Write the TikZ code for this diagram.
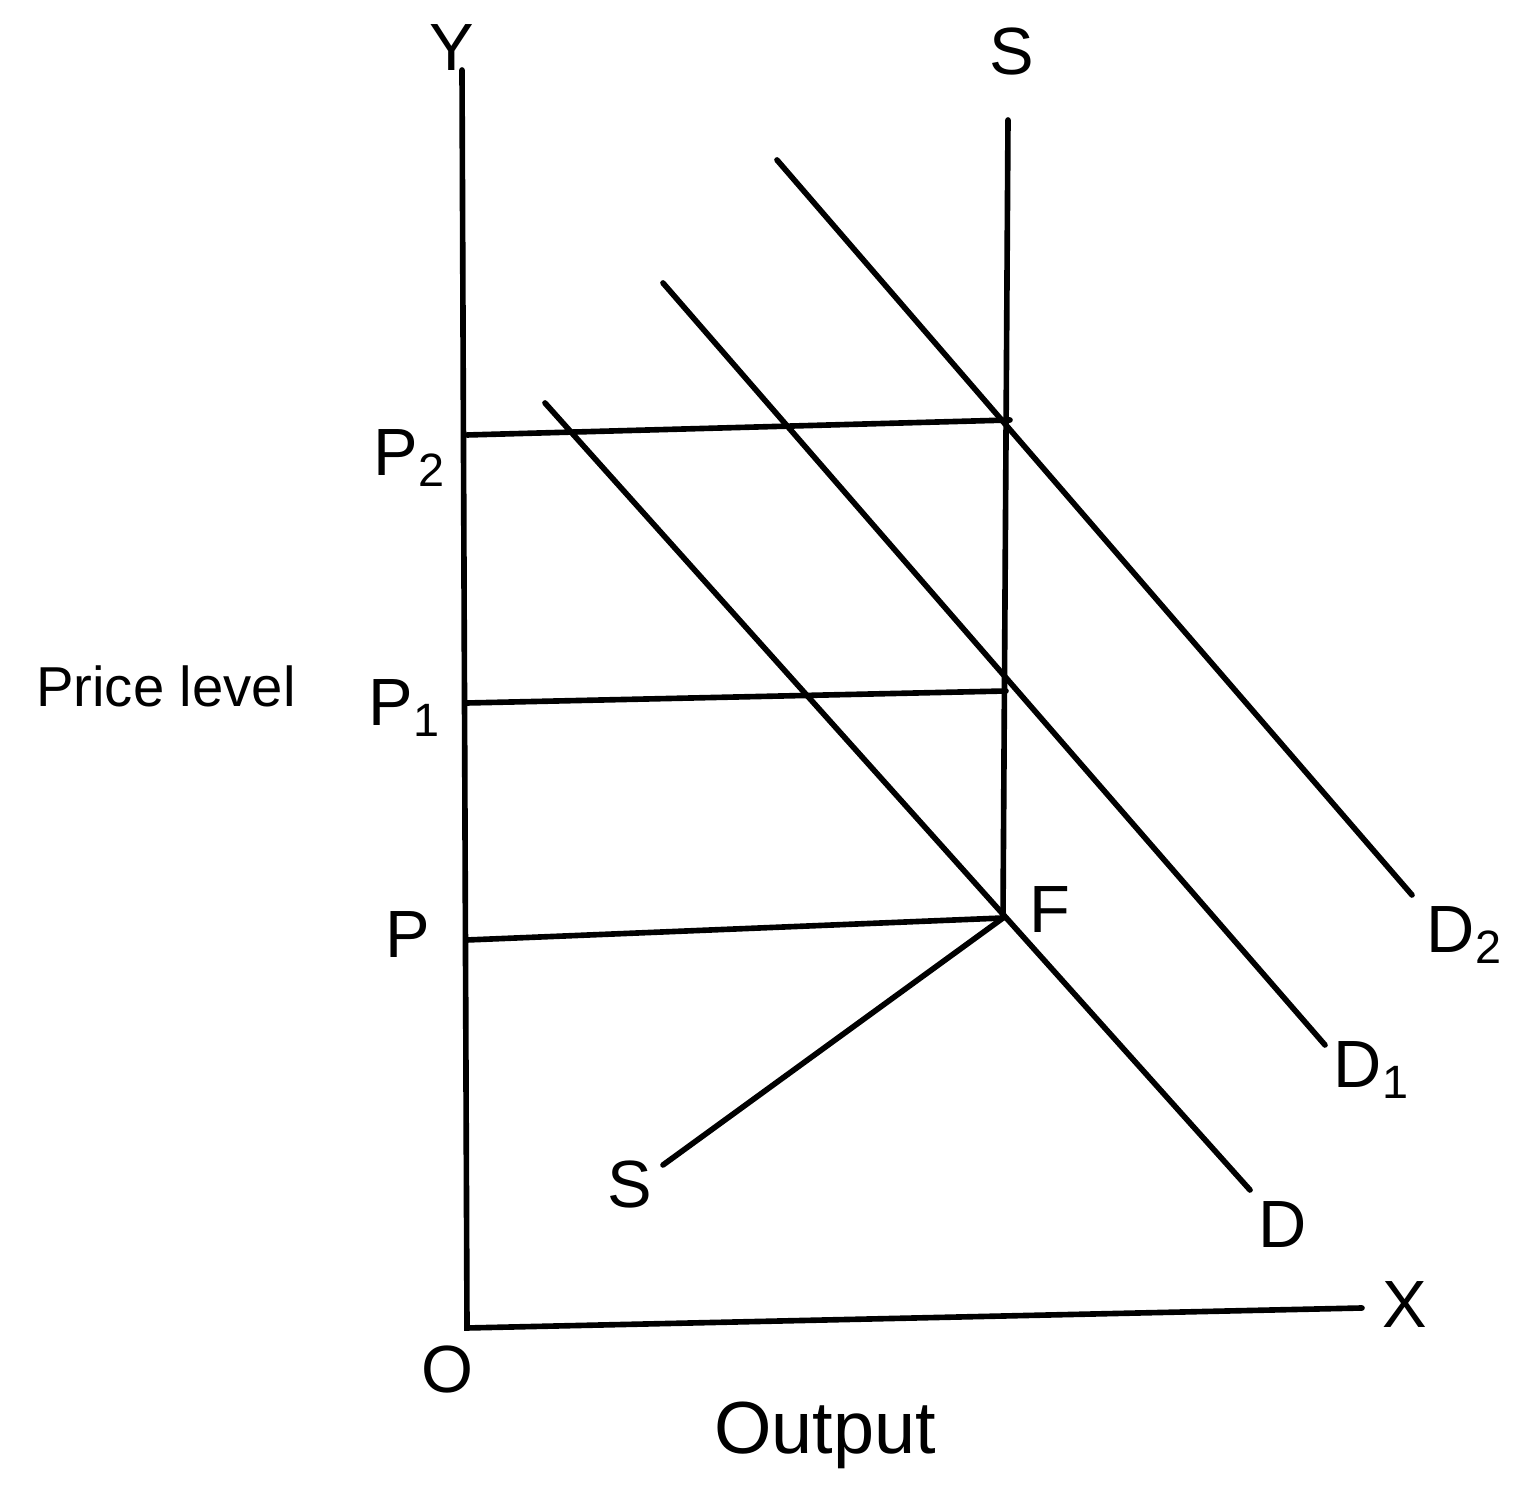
\documentclass[tikz,border=0pt]{standalone}
\usepackage{fontspec}
\setmainfont{Liberation Sans}
\begin{document}
\begin{tikzpicture}[x=0.01cm,y=-0.01cm,
  ln/.style={line width=1.6pt, line cap=round},
  lab/.style={font=\fontsize{19}{22}\selectfont, inner sep=0pt},
  side/.style={font=\fontsize{16}{19}\selectfont, inner sep=0pt},
  big/.style={font=\fontsize{21}{25}\selectfont, inner sep=0pt}]
\useasboundingbox (0,0) rectangle (1529,1486);
% coordinates
\coordinate (ytop) at (462,70);
\coordinate (O) at (467,1328);
\coordinate (xend) at (1362,1308);
\coordinate (stop) at (1008,120);
\coordinate (F) at (1003,918);
\coordinate (p2a) at (467,435);
\coordinate (p2b) at (1010,420);
\coordinate (p1a) at (467,703);
\coordinate (p1b) at (1006,691);
\coordinate (pa) at (467,940);
\coordinate (d0a) at (545,403);
\coordinate (d0b) at (1250,1190);
\coordinate (d1a) at (663,283);
\coordinate (d1b) at (1325,1045);
\coordinate (d2a) at (777,160);
\coordinate (d2b) at (1412,895);
\coordinate (sb) at (663,1165);
% axes
\draw[ln] (ytop) -- (O) -- (xend);
% vertical supply
\draw[ln] (stop) -- (F);
% price lines
\draw[ln] (p2a) -- (p2b);
\draw[ln] (p1a) -- (p1b);
\draw[ln] (pa) -- (F);
% demand curves
\draw[ln] (d0a) -- (d0b);
\draw[ln] (d1a) -- (d1b);
\draw[ln] (d2a) -- (d2b);
% short-run supply
\draw[ln] (sb) -- (F);
% labels
\node[lab] (ly) at (452,48) {Y};
\node[lab] (ls) at (1012,52) {S};
\node[lab] (lp2) at (410,458) {P\textsubscript{2}};
\node[lab] (lp1) at (405,708) {P\textsubscript{1}};
\node[lab] (lp) at (408,935) {P};
\node[side] (lprice) at (166,686) {Price level};
\node[lab] (lf) at (1050,910) {F};
\node[lab] (ld2) at (1465,935) {D\textsubscript{2}};
\node[lab] (ld1) at (1372,1070) {D\textsubscript{1}};
\node[lab] (ld) at (1283,1225) {D};
\node[lab] (lss) at (630,1185) {S};
\node[lab] (lx) at (1405,1305) {X};
\node[lab] (lo) at (447,1370) {O};
\node[big] (lout) at (825,1435) {Output};
\end{tikzpicture}
\end{document}
